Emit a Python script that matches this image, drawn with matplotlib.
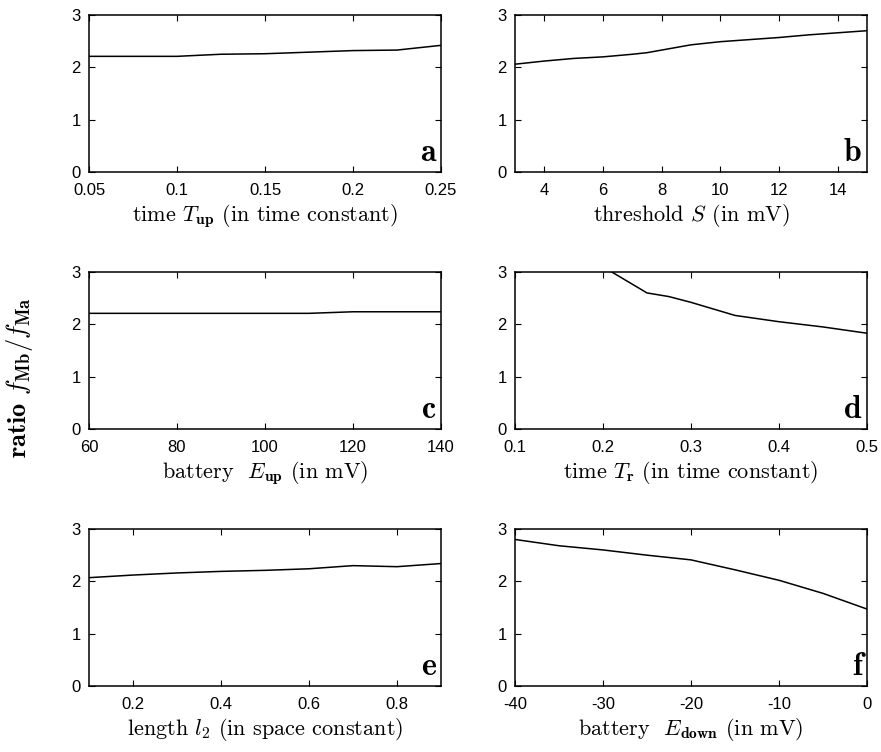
import matplotlib
matplotlib.use("Agg")
import matplotlib.pyplot as plt

plt.rcParams['mathtext.fontset'] = 'cm'
plt.rcParams['font.family'] = 'serif'
plt.rcParams['font.serif'] = ['cmr10', 'DejaVu Serif']
plt.rcParams['axes.unicode_minus'] = False

# panel data
a_x = [0.05, 0.075, 0.1, 0.125, 0.15, 0.175, 0.2, 0.225, 0.25]
a_y = [2.21, 2.21, 2.21, 2.25, 2.26, 2.29, 2.32, 2.33, 2.42]

b_x = [3, 4, 5, 6, 7, 7.5, 8, 9, 10, 11, 12, 13, 14, 15]
b_y = [2.06, 2.12, 2.17, 2.2, 2.25, 2.28, 2.33, 2.43, 2.49, 2.53, 2.57, 2.62, 2.66, 2.70]

c_x = [60, 80, 100, 110, 120, 140]
c_y = [2.21, 2.21, 2.21, 2.21, 2.24, 2.24]

d_x = [0.2, 0.25, 0.275, 0.3, 0.35, 0.4, 0.45, 0.5]
d_y = [3.1, 2.6, 2.53, 2.42, 2.17, 2.05, 1.95, 1.83]

e_x = [0.1, 0.2, 0.3, 0.4, 0.5, 0.6, 0.7, 0.8, 0.9]
e_y = [2.07, 2.12, 2.16, 2.19, 2.21, 2.24, 2.30, 2.28, 2.34]

f_x = [-40, -35, -30, -25, -20, -15, -10, -5, 0]
f_y = [2.80, 2.68, 2.60, 2.50, 2.41, 2.22, 2.02, 1.77, 1.47]

panels = [
    (a_x, a_y, (0.05, 0.25), [0.05, 0.1, 0.15, 0.2, 0.25], ['0.05', '0.1', '0.15', '0.2', '0.25'],
     r'time $T_{\mathbf{up}}$ (in time constant)', 'a'),
    (b_x, b_y, (3, 15), [4, 6, 8, 10, 12, 14], None,
     r'threshold $S$ (in mV)', 'b'),
    (c_x, c_y, (60, 140), [60, 80, 100, 120, 140], None,
     r'battery  $E_{\mathbf{up}}$ (in mV)', 'c'),
    (d_x, d_y, (0.1, 0.5), [0.1, 0.2, 0.3, 0.4, 0.5], None,
     r'time $T_{\mathbf{r}}$ (in time constant)', 'd'),
    (e_x, e_y, (0.1, 0.9), [0.2, 0.4, 0.6, 0.8], None,
     r'length $l_2$ (in space constant)', 'e'),
    (f_x, f_y, (-40, 0), [-40, -30, -20, -10, 0], None,
     r'battery  $E_{\mathbf{down}}$ (in mV)', 'f'),
]

W, H = 881, 752
fig = plt.figure(figsize=(W / 100, H / 100), dpi=100)

lefts = [89, 515]
tops = [15, 272, 529]
aw, ah = 352, 157

for i, (x, y, xl, xt, xtl, label, letter) in enumerate(panels):
    col = i % 2
    row = i // 2
    ax = fig.add_axes([lefts[col] / W, 1 - (tops[row] + ah) / H, aw / W, ah / H])
    ax.plot(x, y, color='black', lw=1.1)
    ax.set_xlim(*xl)
    ax.set_ylim(0, 3)
    ax.set_xticks(xt)
    if xtl is not None:
        ax.set_xticklabels(xtl)
    else:
        ax.set_xticklabels([('%g' % v) for v in xt])
    ax.set_yticks([0, 1, 2, 3])
    ax.set_yticklabels(['0', '1', '2', '3'])
    ax.tick_params(direction='in', top=True, right=True, length=4, width=0.8,
                   labelsize=12, labelfontfamily='Liberation Sans')
    ax.tick_params(axis='x', pad=8)
    ax.tick_params(axis='y', pad=6)
    for s in ax.spines.values():
        s.set_linewidth(1.1)
    ax.set_xlabel(label, fontsize=16, labelpad=3)
    ax.text(0.985, 0.03, letter, transform=ax.transAxes, ha='right', va='bottom',
            fontsize=23, fontfamily='cmb10')

fig.text(20 / W, 1 - 378 / H, r'ratio $f_{\mathbf{Mb}}/f_{\mathbf{Ma}}$', rotation=90,
         ha='center', va='center', fontsize=19, fontfamily='cmb10')

fig.savefig('out.png', dpi=100)
